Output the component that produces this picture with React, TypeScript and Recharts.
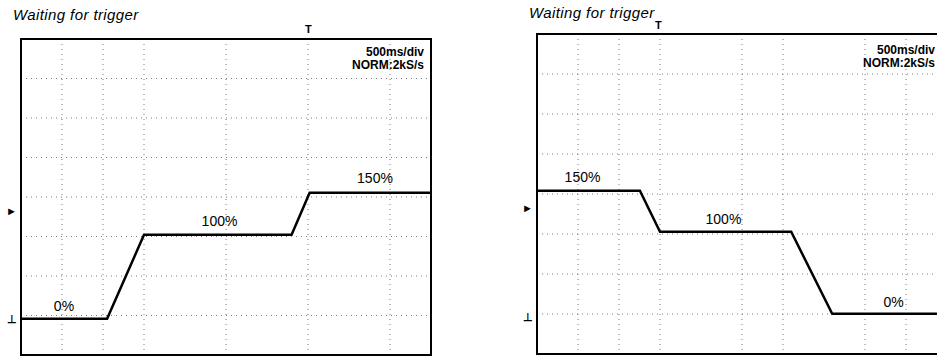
import { LineChart, Line, XAxis, YAxis, CartesianGrid, ReferenceArea, ReferenceDot, Label } from "recharts";

// time in ms (500ms/div, 10 div), level in percent
const riseTimes = [0, 1050, 1500, 3300, 3520, 5000];
const riseLevels = [0, 0, 100, 100, 150, 150];

const fallTimes = [0, 1255, 1500, 3100, 3600, 5000];
const fallLevels = [150, 150, 100, 100, 0, 0];

// dotted graticule lines that survived the scan
const riseGridX = [500, 1000, 1500, 2500, 3500, 4500];
const fallGridX = [500, 1000, 1500, 2500, 3000, 4000, 4500];

const riseLabels = [
  { t: 524, level: 0, text: "0%", offset: 8 },
  { t: 2421, level: 100, text: "100%", offset: 9 },
  { t: 4317, level: 150, text: "150%", offset: 10 },
];
const fallLabels = [
  { t: 555, level: 150, text: "150%", offset: 9 },
  { t: 2274, level: 100, text: "100%", offset: 8 },
  { t: 4348, level: 0, text: "0%", offset: 7 },
];

const toRows = (times: number[], levels: number[]) => times.map((t, i) => ({ t, level: levels[i] }));
const riseData = toRows(riseTimes, riseLevels);
const fallData = toRows(fallTimes, fallLevels);

const font = "'Liberation Sans', Arial, sans-serif";

interface ScopeProps {
  data: { t: number; level: number }[];
  labels: { t: number; level: number; text: string; offset: number }[];
  gridX: number[];
  yMin: number;
  yDiv: number;
  width: number;
  margin: { top: number; left: number; right: number; bottom: number };
}

function Scope({ data, labels, gridX, yMin, yDiv, width, margin }: ScopeProps) {
  const yTicks = Array.from({ length: 9 }, (_, i) => yMin + i * yDiv);
  const yMax = yTicks[8];
  return (
    <LineChart width={width} height={357} data={data} margin={margin}>
      <CartesianGrid stroke="#7a7a7a" strokeDasharray="1 4" />
      <XAxis dataKey="t" type="number" domain={[0, 5000]} ticks={gridX} hide />
      <YAxis type="number" domain={[yMin, yMax]} ticks={yTicks} hide allowDataOverflow />
      <ReferenceArea x1={0} x2={5000} y1={yMin} y2={yMax} fill="none" stroke="#000" strokeWidth={2} ifOverflow="visible" />
      <Line type="linear" dataKey="level" stroke="#000" strokeWidth={2.5} dot={false} isAnimationActive={false} />
      {labels.map((l) => (
        <ReferenceDot key={l.text} x={l.t} y={l.level} r={0} stroke="none" fill="none">
          <Label value={l.text} position="top" offset={l.offset} fill="#000" fontSize={14} fontFamily={font} />
        </ReferenceDot>
      ))}
    </LineChart>
  );
}

const abs = (left: number, top: number): React.CSSProperties => ({ position: "absolute", left, top, fontFamily: font, color: "#000", whiteSpace: "nowrap" });

const title: React.CSSProperties = { fontSize: 15, fontStyle: "italic", letterSpacing: 0.4 };
const setting: React.CSSProperties = { width: 100, textAlign: "right", fontSize: 12, fontWeight: "bold", lineHeight: "13px" };

export default function App() {
  return (
    <div style={{ position: "absolute", left: 0, top: 0, width: 937, height: 357, overflow: "hidden", background: "#fff" }}>
      <div style={abs(0, 0)}>
        <Scope data={riseData} labels={riseLabels} gridX={riseGridX} yMin={-43} yDiv={47} width={450}
          margin={{ top: 39, left: 21, right: 19, bottom: 2 }} />
      </div>
      <div style={abs(480, 0)}>
        <Scope data={fallData} labels={fallLabels} gridX={fallGridX} yMin={-49} yDiv={48.75} width={480}
          margin={{ top: 34, left: 57, right: 13, bottom: 3 }} />
      </div>

      <div style={{ ...abs(13, 6), ...title }}>Waiting for trigger</div>
      <div style={{ ...abs(529, 4), ...title }}>Waiting for trigger</div>

      <div style={{ ...abs(324, 46), ...setting }}>
        500ms/div<br />NORM:2kS/s
      </div>
      <div style={{ ...abs(835, 44), ...setting }}>
        500ms/div<br />NORM:2kS/s
      </div>

      <div style={{ ...abs(305, 23), fontSize: 11, fontWeight: "bold" }}>T</div>
      <div style={{ ...abs(655, 19), fontSize: 11, fontWeight: "bold" }}>T</div>
      <div style={{ ...abs(6, 205), fontSize: 11 }}>►</div>
      <div style={{ ...abs(7, 313), fontSize: 11, fontWeight: "bold" }}>⊥</div>
      <div style={{ ...abs(522, 202), fontSize: 11 }}>►</div>
      <div style={{ ...abs(523, 311), fontSize: 11, fontWeight: "bold" }}>⊥</div>
    </div>
  );
}
